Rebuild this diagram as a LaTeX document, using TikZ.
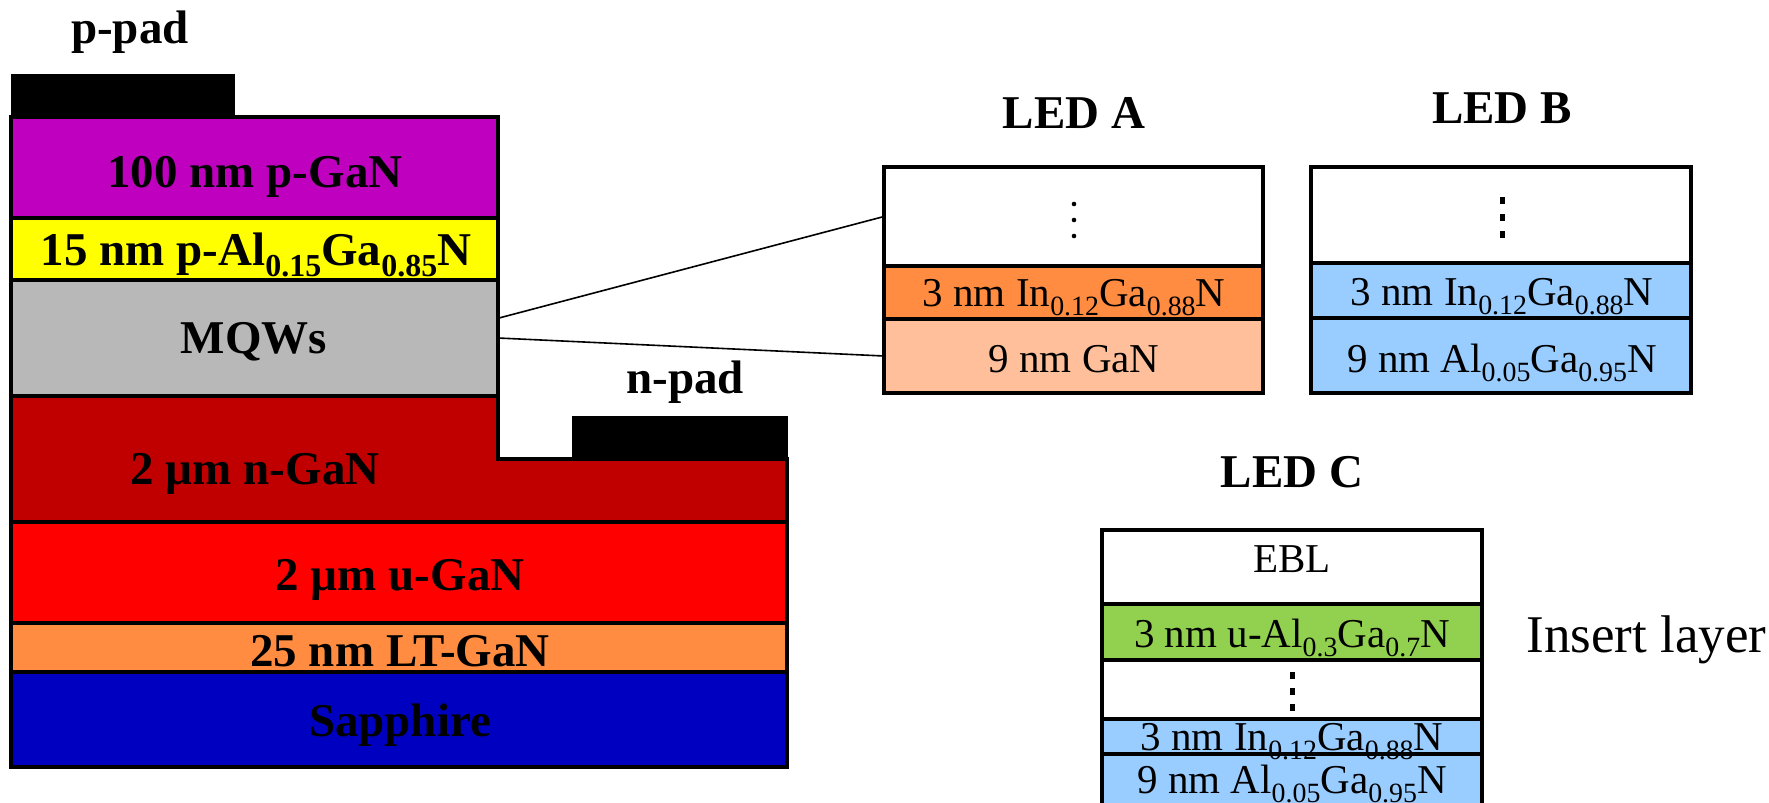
\documentclass[tikz,border=0pt]{standalone}
\usepackage{fontspec}
\setmainfont{Liberation Serif}
\usepackage{graphicx}
\usetikzlibrary{fit,calc}
\definecolor{pgan}{HTML}{BF00BF}
\definecolor{algan}{HTML}{FFFF00}
\definecolor{mqwc}{HTML}{B8B8B8}
\definecolor{ngan}{HTML}{C00000}
\definecolor{ugan}{HTML}{FF0000}
\definecolor{ltgan}{HTML}{FF8C40}
\definecolor{sapph}{HTML}{0000C0}
\definecolor{ingan}{HTML}{FF8C40}
\definecolor{ganc}{HTML}{FFBF9A}
\definecolor{lblue}{HTML}{99CCFF}
\definecolor{lgreen}{HTML}{92D050}
\newcommand{\sbs}[1]{\raisebox{-0.24em}{\scalebox{0.68}{#1}}}
\begin{document}
\begin{tikzpicture}[x=0.5pt,y=-0.5pt,
  layer/.style={draw=black, line width=2pt, inner sep=0pt, outer sep=0pt},
  bigb/.style={font=\fontsize{23.5}{28}\selectfont\bfseries, anchor=base, inner sep=0pt},
  smalltxt/.style={font=\fontsize{20.5}{24}\selectfont, anchor=base, inner sep=0pt},
  pad/.style={fill=black, draw=black, line width=0.5pt, inner sep=0pt, outer sep=0pt},
  conn/.style={line width=0.8pt},
  dotc/.style={fill=black}]
\useasboundingbox (0,0) rectangle (1769,803);

% ---- main stack ----
\node[pad, fit={(11,74) (234,117)}] (ppad) {};
\node[layer, fill=pgan, fit={(11,117) (498,218)}] (pg) {};
\node[layer, fill=algan, fit={(11,218) (498,280)}] (alg) {};
\node[layer, fill=mqwc, fit={(11,280) (498,396)}] (mqw) {};
\draw[layer, fill=ngan, line join=miter] (11,396) -- (498,396) -- (498,459) -- (787,459) -- (787,522) -- (11,522) -- cycle;
\node[pad, fit={(572,416) (787,459)}] (npad) {};
\node[layer, fill=ugan, fit={(11,522) (787,623)}] (ug) {};
\node[layer, fill=ltgan, fit={(11,623) (787,672)}] (lt) {};
\node[layer, fill=sapph, fit={(11,672) (787,767)}] (sa) {};

% ---- LED A ----
\node[layer, fill=white, fit={(884,167) (1263,266)}] (aT) {};
\node[layer, fill=ingan, fit={(884,266) (1263,319)}] (aW) {};
\node[layer, fill=ganc, fit={(884,319) (1263,393)}] (aB) {};
% ---- LED B ----
\node[layer, fill=white, fit={(1311,167) (1691,263)}] (bT) {};
\node[layer, fill=lblue, fit={(1311,263) (1691,318)}] (bW) {};
\node[layer, fill=lblue, fit={(1311,318) (1691,393)}] (bB) {};
% ---- LED C ----
\node[layer, fill=white, fit={(1102,530) (1482,604)}] (cE) {};
\node[layer, fill=lgreen, fit={(1102,604) (1482,660)}] (cI) {};
\node[layer, fill=white, fit={(1102,660) (1482,719)}] (cD) {};
\node[layer, fill=lblue, fit={(1102,719) (1482,754)}] (cW) {};
\node[layer, fill=lblue, fit={(1102,754) (1482,812)}] (cB) {};

% ---- dots ----
\foreach \yy in {204,220,236} \fill[dotc] (1074,\yy) circle (2.3);
\foreach \yy in {200,217,234} \fill[dotc] (1500,\yy-3.5) rectangle (1504.5,\yy+3.5);
\foreach \yy in {675,691,707} \fill[dotc] (1290,\yy-3.5) rectangle (1295,\yy+3.5);

% ---- connectors ----
\draw[conn] ($(mqw.north east)!0.33!(mqw.south east)$) -- (aT.west);
\draw[conn] (mqw.east) -- (aB.west);

% ---- labels ----
\node[bigb] (lppad) at (130,43) {p-pad};
\node[bigb] (lpg) at (255,187) {100 nm p-GaN};
\node[bigb] (lalg) at (256,265) {15 nm p-Al\sbs{0.15}Ga\sbs{0.85}N};
\node[bigb] (lmqw) at (254,353) {MQWs};
\node[bigb] (lng) at (255,484) {2 µm n-GaN};
\node[bigb] (lug) at (400,590) {2 µm u-GaN};
\node[bigb] (llt) at (400,666) {25 nm LT-GaN};
\node[bigb] (lsa) at (400,736) {Sapphire};
\node[bigb] (lnpad) at (685,393) {n-pad};

\node[bigb] (tA) at (1074,128) {LED A};
\node[bigb] (tB) at (1502,123) {LED B};
\node[bigb] (tC) at (1292,487) {LED C};

\node[smalltxt] (aWl) at (1074,306) {3 nm In\sbs{0.12}Ga\sbs{0.88}N};
\node[smalltxt] (aBl) at (1074,372) {9 nm GaN};
\node[smalltxt] (bWl) at (1502,305) {3 nm In\sbs{0.12}Ga\sbs{0.88}N};
\node[smalltxt] (bBl) at (1502,372) {9 nm Al\sbs{0.05}Ga\sbs{0.95}N};
\node[smalltxt] (cEl) at (1292,572) {EBL};
\node[smalltxt] (cIl) at (1292,647) {3 nm u-Al\sbs{0.3}Ga\sbs{0.7}N};
\node[smalltxt] (cWl) at (1292,750) {3 nm In\sbs{0.12}Ga\sbs{0.88}N};
\node[smalltxt] (cBl) at (1292,793) {9 nm Al\sbs{0.05}Ga\sbs{0.95}N};

\node[font=\fontsize{26.5}{31}\selectfont, anchor=base west, inner sep=0pt] (ins) at (1526,652) {Insert layer};

% ---- borders over text ----
\foreach \n in {pg,alg,mqw,ug,lt,sa,aT,aW,aB,bT,bW,bB,cE,cI,cD,cW,cB}
  \draw[line width=2pt] (\n.north west) rectangle (\n.south east);
\draw[line width=2pt, line join=miter] (11,396) -- (498,396) -- (498,459) -- (787,459) -- (787,522) -- (11,522) -- cycle;
\end{tikzpicture}
\end{document}
